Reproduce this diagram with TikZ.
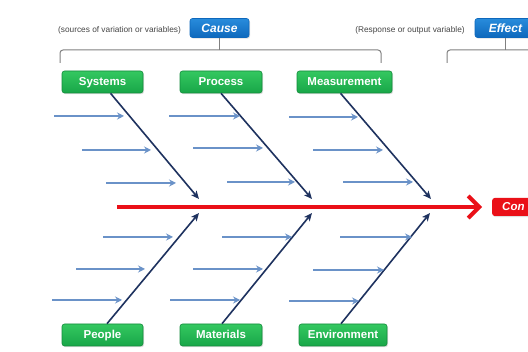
\documentclass[tikz,border=0pt]{standalone}
\usepackage{fontspec}
\setmainfont{Liberation Sans}
\usetikzlibrary{arrows.meta,shadows}

\definecolor{boxgreenT}{RGB}{52,200,96}
\definecolor{boxgreenB}{RGB}{24,166,72}
\definecolor{boxgreenD}{RGB}{20,140,60}
\definecolor{boxblueT}{RGB}{40,140,220}
\definecolor{boxblueB}{RGB}{14,104,188}
\definecolor{spinered}{RGB}{234,16,24}
\definecolor{bonenavy}{RGB}{30,50,95}
\definecolor{ribblue}{RGB}{106,146,200}
\definecolor{bracketgray}{RGB}{128,128,128}
\definecolor{notegray}{RGB}{70,70,70}

\tikzset{
  catbox/.style={rectangle, rounded corners=2.5pt, draw=boxgreenD, line width=0.6pt,
    top color=boxgreenT, bottom color=boxgreenB, text=white,
    font=\bfseries\fontsize{11.5}{12}\selectfont, inner sep=0pt,
    text height=9.5pt, text depth=1.5pt,
    minimum height=22pt,
    drop shadow={opacity=0.25, shadow xshift=1pt, shadow yshift=-1.2pt}},
  headbox/.style={rectangle, rounded corners=2.5pt, draw=boxblueB, line width=0.6pt,
    top color=boxblueT, bottom color=boxblueB, text=white,
    font=\bfseries\itshape\fontsize{12}{13}\selectfont, inner sep=0pt,
    text height=10pt, text depth=1.4pt,
    minimum height=19pt,
    drop shadow={opacity=0.25, shadow xshift=1pt, shadow yshift=-1.2pt}},
  resultbox/.style={rectangle, rounded corners=2.5pt, fill=spinered, text=white,
    font=\bfseries\itshape\fontsize{11.5}{12}\selectfont, inner ysep=0pt,
    text height=9.5pt, text depth=1.5pt,
    minimum height=18pt, text width=50pt, align=left, inner xsep=10pt,
    drop shadow={opacity=0.25, shadow xshift=1pt, shadow yshift=-1.2pt}},
  note/.style={text=notegray, font=\fontsize{8.3}{9}\selectfont, inner sep=0pt},
  bracket/.style={draw=bracketgray, line width=1pt, rounded corners=3pt},
  bone/.style={draw=bonenavy, line width=1.6pt,
    -{Stealth[length=8pt,width=7pt,inset=2pt]}},
  rib/.style={draw=ribblue, line width=1.7pt,
    -{Stealth[length=7pt,width=7pt,inset=2.5pt]}},
  spine/.style={draw=spinered, line width=4pt,
    -{Straight Barb[length=11pt,width=22pt,line width=4pt]}},
}

\begin{document}
\begin{tikzpicture}[x=1pt,y=-1pt]
  \useasboundingbox[fill=white] (0,0) rectangle (528,352);

  % headings and their brackets
  \node[headbox, minimum width=59pt] (cause) at (219.5,28) {Cause};
  \node[headbox, minimum width=61pt] (effect) at (505.5,28) {Effect};
  \node[note] (causenote) at (119.5,30) {(sources of variation or variables)};
  \node[note] (effectnote) at (410,30) {(Response or output variable)};

  \coordinate (cbl) at (60,63);
  \coordinate (cbr) at (381,63);
  \coordinate (cbm) at (219.5,50);
  \draw[bracket] (cbl) -- (60,50) -- (381,50) -- (cbr);
  \draw[draw=bracketgray, line width=1pt] (cause.south) -- (cbm);

  \coordinate (ebl) at (447,63);
  \coordinate (ebm) at (505.5,50);
  \draw[bracket] (ebl) -- (447,50) -- (540,50);
  \draw[draw=bracketgray, line width=1pt] (effect.south) -- (ebm);

  % category boxes
  \node[catbox, minimum width=81pt] (sys)  at (102.5,82) {Systems};
  \node[catbox, minimum width=82pt] (proc) at (221,82)   {Process};
  \node[catbox, minimum width=95pt] (meas) at (344.5,82) {Measurement};
  \node[catbox, minimum width=81pt] (peo)  at (102.5,335) {People};
  \node[catbox, minimum width=82pt] (mat)  at (221,335)   {Materials};
  \node[catbox, minimum width=88pt] (env)  at (343,335)   {Environment};

  % spine and result box
  \coordinate (tail) at (117,207);
  \node[resultbox, anchor=west] (res) at (492,207) {Con};
  \draw[spine] (tail) -- ([xshift=-10pt]res.west);

  % main bones
  \coordinate (t1) at (199,199);
  \coordinate (t2) at (312,199);
  \coordinate (t3) at (431,199);
  \coordinate (b1) at (199,213);
  \coordinate (b2) at (312,213);
  \coordinate (b3) at (430,213);
  \draw[bone] ([xshift=8pt]sys.south) -- (t1);
  \draw[bone] (proc.south) -- (t2);
  \draw[bone] ([xshift=-4pt]meas.south) -- (t3);
  \draw[bone] ([xshift=4.5pt]peo.north) -- (b1);
  \draw[bone] ([xshift=1pt]mat.north) -- (b2);
  \draw[bone] ([xshift=-2pt]env.north) -- (b3);

  % sub-cause arrows
  \foreach \y/\a/\b [count=\i] in {
      116/54/124, 150/82/151, 183/106/176,
      116/169/240, 148/193/263, 182/227/295,
      117/289/358, 150/313/383, 182/343/413,
      237/103/173, 269/76/145, 300/52/122,
      237/222/292, 269/193/263, 300/170/240,
      237/340/412, 270/313/384, 301/289/359} {
    \coordinate (r\i a) at (\a,\y);
    \coordinate (r\i b) at (\b,\y);
    \draw[rib] (r\i a) -- (r\i b);
  }
\end{tikzpicture}
\end{document}
